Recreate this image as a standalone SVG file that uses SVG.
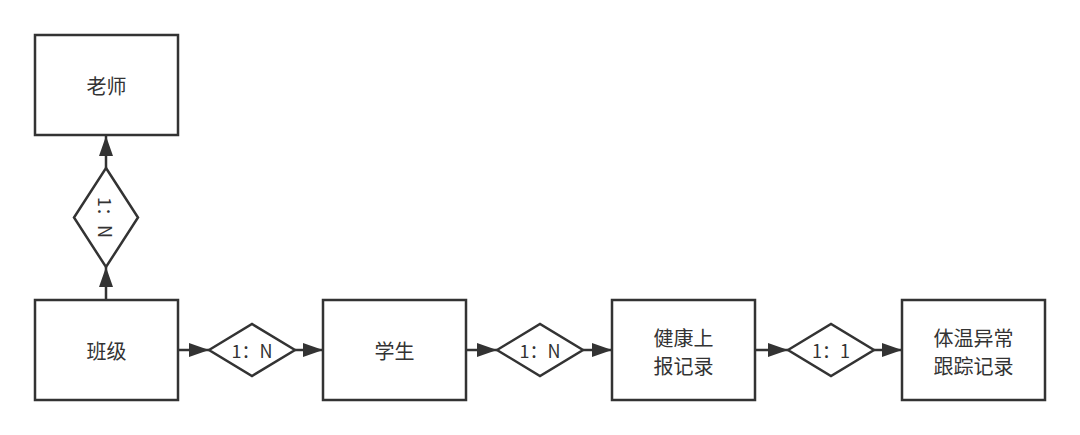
<svg xmlns="http://www.w3.org/2000/svg" width="1080" height="435" viewBox="0 0 1080 435">
<style>
.box{fill:#fff;stroke:#333;stroke-width:2.5}
.dia{fill:#fff;stroke:#333;stroke-width:2.5}
.lbl{font-family:"Noto Sans CJK SC","Noto Sans",sans-serif;font-size:20px;fill:#333;text-anchor:middle;dominant-baseline:central}
.rel{font-family:"Noto Sans CJK SC","Noto Sans",sans-serif;font-size:18px;fill:#333;text-anchor:middle;dominant-baseline:central}
.ln{stroke:#333;stroke-width:2.5;fill:none}
</style>
<defs>
<marker id="ah" viewBox="0 0 20 14" refX="20" refY="7" markerWidth="20" markerHeight="14" markerUnits="userSpaceOnUse" orient="auto">
<path d="M0,0 L20,7 L0,14 Z" fill="#333"/>
</marker>
</defs>
<rect width="1080" height="435" fill="#fff"/>
<g id="connectors">
<line class="ln" x1="106" y1="168" x2="106" y2="136" marker-end="url(#ah)"/>
<line class="ln" x1="106" y1="299" x2="106" y2="267" marker-end="url(#ah)"/>
<line class="ln" x1="178" y1="350" x2="209" y2="350" marker-end="url(#ah)"/>
<line class="ln" x1="295" y1="350" x2="323" y2="350" marker-end="url(#ah)"/>
<line class="ln" x1="466" y1="350" x2="497" y2="350" marker-end="url(#ah)"/>
<line class="ln" x1="583" y1="350" x2="612" y2="350" marker-end="url(#ah)"/>
<line class="ln" x1="755" y1="350" x2="788" y2="350" marker-end="url(#ah)"/>
<line class="ln" x1="874" y1="350" x2="902" y2="350" marker-end="url(#ah)"/>
</g>
<g id="teacher"><rect class="box" x="35" y="35" width="143" height="100"/><text class="lbl" x="106.5" y="85">老师</text></g>
<g id="rel-teacher"><polygon class="dia" points="106,168 138,217.5 106,267 74,217.5"/><text class="rel" x="0" y="0" transform="translate(106,217.5) rotate(90)">1：N</text></g>
<g id="class"><rect class="box" x="35" y="300" width="143" height="100"/><text class="lbl" x="106.5" y="350">班级</text></g>
<g id="rel-student"><polygon class="dia" points="209,350 252,324 295,350 252,376"/><text class="rel" x="252" y="350">1：N</text></g>
<g id="student"><rect class="box" x="323" y="300" width="143" height="100"/><text class="lbl" x="394.5" y="350">学生</text></g>
<g id="rel-health"><polygon class="dia" points="497,350 540,324 583,350 540,376"/><text class="rel" x="540" y="350">1：N</text></g>
<g id="health"><rect class="box" x="612" y="300" width="143" height="100"/><text class="lbl" x="683.5" y="337">健康上</text><text class="lbl" x="683.5" y="365">报记录</text></g>
<g id="rel-track"><polygon class="dia" points="788,350 831,324 874,350 831,376"/><text class="rel" x="831" y="350">1：1</text></g>
<g id="track"><rect class="box" x="902" y="300" width="143" height="100"/><text class="lbl" x="973.5" y="337">体温异常</text><text class="lbl" x="973.5" y="365">跟踪记录</text></g>
</svg>
